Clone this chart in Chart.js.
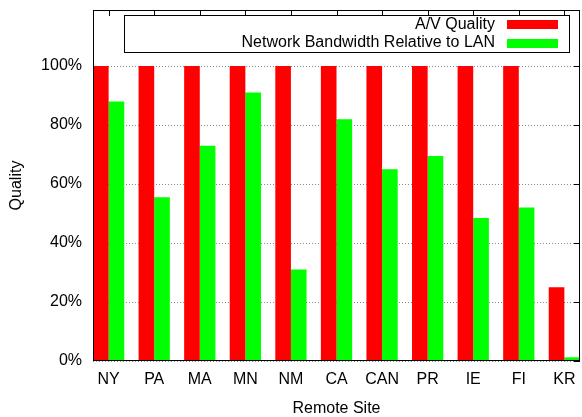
<!DOCTYPE html>
<html>
<head>
<meta charset="utf-8">
<script src="https://cdn.jsdelivr.net/npm/chart.js@4.4.1/dist/chart.umd.min.js"></script>
<style>
  html, body { margin: 0; padding: 0; background: #fff; }
  #wrap { width: 582px; height: 417px; }
</style>
</head>
<body>
<div id="wrap"><canvas id="c" width="582" height="417"></canvas></div>
<script>
// ---- data ----
const sites = ["NY", "PA", "MA", "MN", "NM", "CA", "CAN", "PR", "IE", "FI", "KR"];
const avQuality = [1.00, 1.00, 1.00, 1.00, 1.00, 1.00, 1.00, 1.00, 1.00, 1.00, 0.25];
const bandwidthRel = [0.88, 0.555, 0.73, 0.91, 0.31, 0.82, 0.65, 0.695, 0.485, 0.52, 0.0125];
const yTicks = [0, 0.2, 0.4, 0.6, 0.8, 1.0];
const seriesNames = ["A/V Quality", "Network Bandwidth Relative to LAN"];
const seriesColors = ["#ff0000", "#00ff00"];

const FONT = "'Liberation Sans', Arial, Helvetica, sans-serif";

const frame = {
  id: 'frame',
  afterDatasetsDraw(chart) {
    const ctx = chart.ctx;
    const a = chart.chartArea;
    const xs = chart.scales.x, ys = chart.scales.y;
    const L = Math.round(a.left), R = Math.round(a.right);
    const T = Math.round(a.top), B = Math.round(a.bottom);
    ctx.save();
    ctx.fillStyle = '#000';
    // border box
    ctx.fillRect(L, T, R - L, 1);
    ctx.fillRect(L, B - 1, R - L, 1);
    ctx.fillRect(L, T, 1, B - T);
    ctx.fillRect(R - 1, T, 1, B - T);
    // mirrored inward ticks
    sites.forEach((s, i) => {
      const px = Math.round(xs.getPixelForValue(i));
      ctx.fillRect(px, T, 1, 6);
    });
    yTicks.forEach(v => {
      const py = Math.round(ys.getPixelForValue(v));
      ctx.fillRect(R - 6, py, 6, 1);
    });
    // legend box
    const lx0 = L + 31, lx1 = R - 11;
    const ly0 = T + 5, ly1 = T + 42;
    ctx.fillStyle = '#fff';
    ctx.fillRect(lx0, ly0, lx1 - lx0, ly1 - ly0);
    ctx.fillStyle = '#000';
    ctx.fillRect(lx0, ly0, lx1 - lx0, 1);
    ctx.fillRect(lx0, ly1, lx1 - lx0 + 1, 1);
    ctx.fillRect(lx0, ly0, 1, ly1 - ly0);
    ctx.fillRect(lx1, ly0, 1, ly1 - ly0);
    ctx.font = '16px ' + FONT;
    ctx.textAlign = 'right';
    ctx.textBaseline = 'middle';
    seriesNames.forEach((name, i) => {
      const cy = T + 14.5 + i * 18.5;
      ctx.fillStyle = '#000';
      ctx.fillText(name, L + 402, cy);
      ctx.fillStyle = seriesColors[i];
      ctx.fillRect(L + 414, Math.round(cy - 4.5), 51, 9);
    });
    ctx.restore();
  }
};

new Chart(document.getElementById('c'), {
  type: 'bar',
  data: {
    datasets: [
      {
        label: seriesNames[0],
        data: avQuality.map((v, i) => ({ x: i, y: v })),
        backgroundColor: seriesColors[0],
        borderWidth: 0
      },
      {
        label: seriesNames[1],
        data: bandwidthRel.map((v, i) => ({ x: i, y: v })),
        backgroundColor: seriesColors[1],
        borderWidth: 0
      }
    ]
  },
  options: {
    responsive: false,
    animation: false,
    devicePixelRatio: 1,
    layout: { padding: { top: 10, right: 2, left: 0, bottom: 0 } },
    datasets: { bar: { categoryPercentage: 0.686, barPercentage: 1.0 } },
    plugins: { legend: { display: false }, tooltip: { enabled: false } },
    scales: {
      x: {
        type: 'linear',
        offset: false,
        min: -0.343,
        max: 10.343,
        afterBuildTicks: ax => { ax.ticks = sites.map((s, i) => ({ value: i })); },
        afterFit: ax => { ax.height = 56; ax.paddingLeft = 0; ax.paddingRight = 0; },
        grid: { display: false, drawTicks: false, offset: false },
        border: { display: false },
        ticks: {
          autoSkip: false,
          maxRotation: 0,
          padding: 11,
          color: '#000',
          font: { family: FONT, size: 16, lineHeight: 1 },
          callback: v => sites[v]
        },
        title: {
          display: true,
          text: 'Remote Site',
          color: '#000',
          font: { family: FONT, size: 16, lineHeight: 1 },
          padding: { top: 0, bottom: 0 }
        }
      },
      y: {
        min: 0,
        max: 1.19,
        afterBuildTicks: ax => { ax.ticks = yTicks.map(v => ({ value: v })); },
        afterFit: ax => { ax.width = 93; ax.paddingTop = 0; ax.paddingBottom = 0; },
        grid: { color: '#888', lineWidth: 1, drawTicks: false },
        border: { display: false, dash: [1, 2] },
        ticks: {
          padding: 11,
          color: '#000',
          font: { family: FONT, size: 16, lineHeight: 1 },
          callback: v => Math.round(v * 100) + '%'
        },
        title: {
          display: true,
          text: 'Quality',
          color: '#000',
          font: { family: FONT, size: 16, lineHeight: 1 },
          padding: { top: 9, bottom: 0 }
        }
      }
    }
  },
  plugins: [frame]
});
</script>
</body>
</html>
